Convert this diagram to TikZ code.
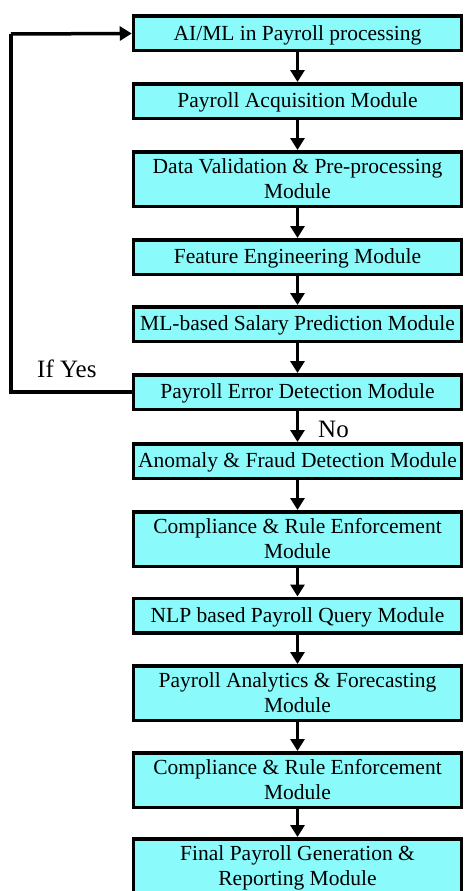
\documentclass[tikz,border=0pt]{standalone}
\usepackage{fontspec}
\setmainfont{Liberation Serif}
\usetikzlibrary{arrows.meta}
\definecolor{boxcyan}{RGB}{138,250,250}
\begin{document}
\begin{tikzpicture}[x=1pt,y=-1pt,
  modbox/.style={draw=black, line width=3.5pt, fill=boxcyan, minimum width=328pt,
    align=center, inner sep=0pt, font=\fontsize{21.5}{25}\selectfont},
  one/.style={minimum height=34.5pt, text height=18pt},
  two/.style={minimum height=54.5pt, text depth=0.5pt},
  flow/.style={line width=3.5pt, -{Triangle[length=12pt,width=14pt]}},
  lbl/.style={font=\fontsize{25}{28}\selectfont, inner sep=0pt}]
\useasboundingbox (0,0) rectangle (464,891);
\begin{scope}
\clip (0,0) rectangle (464,891);
\node[modbox,one] (b1) at (297.5,33.5) {AI/ML in Payroll processing};
\node[modbox,one] (b2) at (297.5,101) {Payroll Acquisition Module};
\node[modbox,two] (b3) at (297.5,179) {Data Validation \& Pre-processing\\Module};
\node[modbox,one] (b4) at (297.5,257) {Feature Engineering Module};
\node[modbox,one] (b5) at (297.5,324) {ML-based Salary Prediction Module};
\node[modbox,one] (b6) at (297.5,392) {Payroll Error Detection Module};
\node[modbox,one] (b7) at (297.5,461) {Anomaly \& Fraud Detection Module};
\node[modbox,two] (b8) at (297.5,539) {Compliance \& Rule Enforcement\\Module};
\node[modbox,one] (b9) at (297.5,615.5) {NLP based Payroll Query Module};
\node[modbox,two] (b10) at (297.5,693) {Payroll Analytics \& Forecasting\\Module};
\node[modbox,two] (b11) at (297.5,780) {Compliance \& Rule Enforcement\\Module};
\node[modbox,two] (b12) at (297.5,866) {Final Payroll Generation \&\\Reporting Module};
\end{scope}
\foreach \a/\b in {b1/b2,b2/b3,b3/b4,b4/b5,b5/b6,b6/b7,b7/b8,b8/b9,b9/b10,b10/b11,b11/b12}
  \draw[flow] (\a.south) -- (\b.north);
\coordinate (c1) at (11,392);
\coordinate (c2) at (11,34);
\draw[line width=3.5pt] (b6.west) -- (c1) -- (c2);
\draw[flow] (c2) -- (b1.west);
\node[lbl, anchor=base west] (yes) at (37,377) {If Yes};
\node[lbl, anchor=base west] (no) at (318,437) {No};
\end{tikzpicture}
\end{document}
